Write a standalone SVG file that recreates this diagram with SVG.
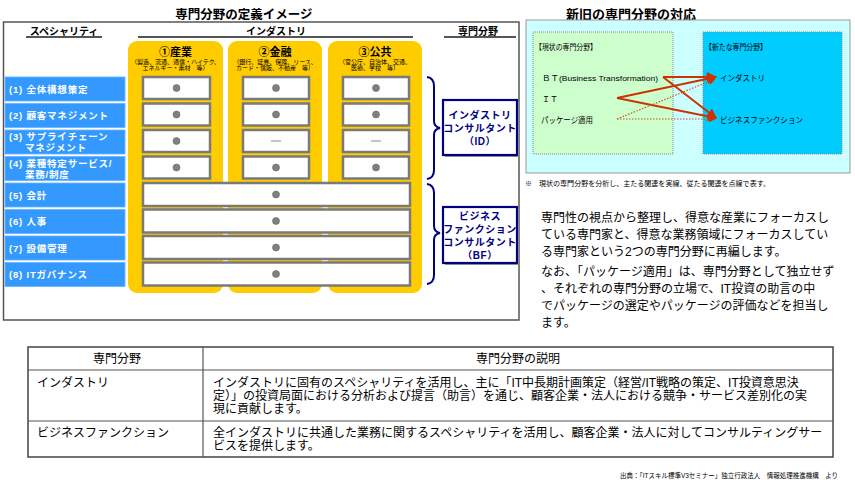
<svg xmlns="http://www.w3.org/2000/svg" width="855" height="486" viewBox="0 0 855 486">
<defs>
<style>
text{font-family:"Liberation Sans","Noto Sans CJK JP",sans-serif;fill:#000}
.ttl{font-size:12.5px;font-weight:bold}
.hdr{font-size:10px;font-weight:bold}
.ul{stroke:#555;stroke-width:2}
.yel{fill:#ffcc00}
.colh{font-size:11px;font-weight:bold;text-anchor:middle}
.cols{font-size:6px;text-anchor:middle}
.blue{fill:#3399ff;stroke:#66b3ff;stroke-width:0.8}
.bl{font-size:9.5px;font-weight:bold;fill:#fff;letter-spacing:0.8px}
.wb{fill:#fff;stroke:#7a7a7a;stroke-width:2.5}
.dot{fill:#808080;stroke:#666;stroke-width:0.6}
.dash{stroke:#888;stroke-width:1}
.brace{fill:none;stroke:#000080;stroke-width:2}
.nb{fill:#fff;stroke:#000080;stroke-width:2.2}
.sh{fill:#999}
.nt{font-size:10px;font-weight:bold;fill:#000080;text-anchor:middle;letter-spacing:0.5px}
.rt{font-size:8px}
.arr{stroke:#cc3300;stroke-width:2;fill:none;marker-end:url(#ah)}
.arrd{stroke:#cc5522;stroke-width:1.2;fill:none;stroke-dasharray:1.5 1.5;marker-end:url(#ahd)}
.para{font-size:12px}
.tb{fill:none;stroke:#444;stroke-width:1.5}
.tl{stroke:#555;stroke-width:1.2}
.tt{font-size:12px}
</style>
<marker id="ah" viewBox="0 0 10 10" refX="9" refY="5" markerWidth="5" markerHeight="5" orient="auto" markerUnits="strokeWidth"><path d="M0,0L10,5L0,10z" fill="#cc3300"/></marker>
<marker id="ahd" viewBox="0 0 10 10" refX="9" refY="5" markerWidth="6" markerHeight="6" orient="auto" markerUnits="strokeWidth"><path d="M0,0L10,5L0,10z" fill="#cc3300"/></marker>
</defs>
<rect width="855" height="486" fill="#fff"/>

<!-- Left figure -->
<g id="left-figure">
<text class="ttl" x="244" y="19" text-anchor="middle">専門分野の定義イメージ</text>
<rect x="3.5" y="22" width="515.5" height="298" fill="none" stroke="#555" stroke-width="1.5"/>
<text class="hdr" x="64" y="35" text-anchor="middle">スペシャリティ</text>
<line class="ul" x1="26" y1="37" x2="102" y2="37"/>
<text class="hdr" x="276" y="35" text-anchor="middle">インダストリ</text>
<line class="ul" x1="138" y1="37" x2="413" y2="37"/>
<text class="hdr" x="478" y="35" text-anchor="middle">専門分野</text>
<line class="ul" x1="444" y1="37" x2="516" y2="37"/>
</g>

<g id="col-sangyo">
<rect class="yel" x="128" y="41" width="95" height="252" rx="9"/>
<text class="colh" x="175.5" y="56">①産業</text>
<text class="cols" x="175.5" y="63.5">（製造、流通、通信・ハイテク、</text>
<text class="cols" x="175.5" y="70">エネルギー・素材　等）</text>
</g>
<g id="col-kinyu">
<rect class="yel" x="228" y="41" width="94" height="252" rx="9"/>
<text class="colh" x="275" y="56">②金融</text>
<text class="cols" x="275" y="63.5">（銀行、証券、保険、リース、</text>
<text class="cols" x="275" y="70">カード・信販、不動産　等）</text>
</g>
<g id="col-kokyo">
<rect class="yel" x="328" y="41" width="94" height="252" rx="9"/>
<text class="colh" x="375" y="56">③公共</text>
<text class="cols" x="375" y="63.5">（官公庁、自治体、交通、</text>
<text class="cols" x="375" y="70">医療、学校　等）</text>
</g>

<g id="row1">
<rect class="blue" x="5" y="77" width="120" height="24"/>
<text class="bl" x="9" y="92.5">(1) 全体構想策定</text>
<rect class="wb" x="143" y="77" width="67" height="22"/><circle class="dot" cx="176.5" cy="88" r="3.5"/>
<rect class="wb" x="243" y="77" width="66" height="22"/><circle class="dot" cx="276" cy="88" r="3.5"/>
<rect class="wb" x="343" y="77" width="66" height="22"/><circle class="dot" cx="376" cy="88" r="3.5"/>
</g>
<g id="row2">
<rect class="blue" x="5" y="103.5" width="120" height="24"/>
<text class="bl" x="9" y="119">(2) 顧客マネジメント</text>
<rect class="wb" x="143" y="103.5" width="67" height="22"/><circle class="dot" cx="176.5" cy="114.5" r="3.5"/>
<rect class="wb" x="243" y="103.5" width="66" height="22"/><circle class="dot" cx="276" cy="114.5" r="3.5"/>
<rect class="wb" x="343" y="103.5" width="66" height="22"/><circle class="dot" cx="376" cy="114.5" r="3.5"/>
</g>
<g id="row3">
<rect class="blue" x="5" y="130" width="120" height="24"/>
<text class="bl" x="9" y="140">(3) サプライチェーン</text>
<text class="bl" x="25" y="151">マネジメント</text>
<rect class="wb" x="143" y="130" width="67" height="22"/><circle class="dot" cx="176.5" cy="141" r="3.5"/>
<rect class="wb" x="243" y="130" width="66" height="22"/><line class="dash" x1="271" y1="141" x2="281" y2="141"/>
<rect class="wb" x="343" y="130" width="66" height="22"/><line class="dash" x1="371" y1="141" x2="381" y2="141"/>
</g>
<g id="row4">
<rect class="blue" x="5" y="156.5" width="120" height="24"/>
<text class="bl" x="9" y="166.5">(4) 業種特定サービス/</text>
<text class="bl" x="25" y="177.5">業務/制度</text>
<rect class="wb" x="143" y="156.5" width="67" height="22"/><circle class="dot" cx="176.5" cy="167.5" r="3.5"/>
<rect class="wb" x="243" y="156.5" width="66" height="22"/><circle class="dot" cx="276" cy="167.5" r="3.5"/>
<rect class="wb" x="343" y="156.5" width="66" height="22"/><circle class="dot" cx="376" cy="167.5" r="3.5"/>
</g>
<g id="row5">
<rect class="blue" x="5" y="183" width="120" height="24"/>
<text class="bl" x="9" y="198.5">(5) 会計</text>
<rect class="wb" x="143" y="183" width="267" height="23"/><circle class="dot" cx="276" cy="194.5" r="3.5"/>
</g>
<g id="row6">
<rect class="blue" x="5" y="209.5" width="120" height="24"/>
<text class="bl" x="9" y="225">(6) 人事</text>
<rect class="wb" x="143" y="209.5" width="267" height="23"/><circle class="dot" cx="276" cy="221" r="3.5"/>
</g>
<g id="row7">
<rect class="blue" x="5" y="236" width="120" height="24"/>
<text class="bl" x="9" y="251.5">(7) 設備管理</text>
<rect class="wb" x="143" y="236" width="267" height="23"/><circle class="dot" cx="276" cy="247.5" r="3.5"/>
</g>
<g id="row8">
<rect class="blue" x="5" y="262.5" width="120" height="24"/>
<text class="bl" x="9" y="278">(8) ITガバナンス</text>
<rect class="wb" x="143" y="262.5" width="267" height="23"/><circle class="dot" cx="276" cy="274" r="3.5"/>
</g>

<g id="node-id">
<rect class="sh" x="445" y="102" width="74" height="55"/>
<rect class="nb" x="443" y="100" width="74" height="55"/>
<text class="nt" x="480" y="119">インダストリ</text>
<text class="nt" x="480" y="132">コンサルタント</text>
<text class="nt" x="480" y="145">（ID）</text>
</g>
<g id="node-bf">
<rect class="sh" x="445" y="209" width="74" height="56"/>
<rect class="nb" x="443" y="207" width="74" height="56"/>
<text class="nt" x="480" y="220">ビジネス</text>
<text class="nt" x="480" y="233">ファンクション</text>
<text class="nt" x="480" y="246">コンサルタント</text>
<text class="nt" x="480" y="259">（BF）</text>
</g>

<!-- Right diagram -->
<g id="right-diagram">
<text class="ttl" x="631" y="19" text-anchor="middle" style="font-size:13px">新旧の専門分野の対応</text>
<rect x="526" y="20" width="324" height="153" fill="#ccffff" stroke="#999" stroke-width="1"/>
<text x="525" y="186" style="font-size:7px" textLength="245" lengthAdjust="spacingAndGlyphs">※　現状の専門分野を分析し、主たる関連を実線、従たる関連を点線で表す。</text>
</g>
<g id="box-current">
<rect x="533" y="32" width="140" height="122" fill="#ccffcc" stroke="#888" stroke-width="1" stroke-dasharray="1 1"/>
<text class="rt" x="535" y="50" textLength="62" lengthAdjust="spacingAndGlyphs">【現状の専門分野】</text>
<text class="rt" x="542" y="81" textLength="116" lengthAdjust="spacingAndGlyphs">ＢＴ(Business Transformation)</text>
<text class="rt" x="542" y="102">ＩＴ</text>
<text class="rt" x="541" y="123" textLength="52" lengthAdjust="spacingAndGlyphs">パッケージ適用</text>
</g>
<g id="box-new">
<rect x="703" y="32" width="139" height="122" fill="#00ccff" stroke="#888" stroke-width="1" stroke-dasharray="1 1"/>
<text class="rt" x="705" y="50" textLength="62" lengthAdjust="spacingAndGlyphs">【新たな専門分野】</text>
<text class="rt" x="720" y="81" textLength="45" lengthAdjust="spacingAndGlyphs">インダストリ</text>
<text class="rt" x="720" y="123" textLength="83" lengthAdjust="spacingAndGlyphs">ビジネスファンクション</text>
</g>

<g id="connectors">
<path class="brace" d="M427,77 Q434,78 434,86 L434,121 Q434,127 440,128 Q434,129 434,135 L434,170 Q434,178 427,179"/>
<path class="brace" d="M427,184 Q434,185 434,193 L434,226 Q434,232 440,233 Q434,234 434,240 L434,275 Q434,283 427,284"/>
<line class="arr" x1="663" y1="77" x2="716" y2="77"/>
<line class="arr" x1="663" y1="77" x2="716" y2="118"/>
<line class="arr" x1="617" y1="98" x2="716" y2="77"/>
<line class="arr" x1="617" y1="98" x2="716" y2="118"/>
<line class="arrd" x1="617" y1="119" x2="715" y2="79"/>
<line class="arrd" x1="617" y1="119" x2="715" y2="119"/>
</g>

<g id="paragraph">
<text class="para" x="541" y="222">専門性の視点から整理し、得意な産業にフォーカスし</text>
<text class="para" x="541" y="239">ている専門家と、得意な業務領域にフォーカスしてい</text>
<text class="para" x="541" y="256">る専門家という2つの専門分野に再編します。</text>
<text class="para" x="541" y="276">なお、「パッケージ適用」は、専門分野として独立せず</text>
<text class="para" x="541" y="293">、それぞれの専門分野の立場で、IT投資の助言の中</text>
<text class="para" x="541" y="310">でパッケージの選定やパッケージの評価などを担当し</text>
<text class="para" x="541" y="327">ます。</text>
</g>

<g id="table">
<rect class="tb" x="28" y="347" width="805" height="110"/>
<line class="tl" x1="28" y1="370" x2="833" y2="370"/>
<line class="tl" x1="28" y1="421" x2="833" y2="421"/>
<line class="tl" x1="203" y1="347" x2="203" y2="457"/>
<text class="tt" x="117" y="363" text-anchor="middle">専門分野</text>
<text class="tt" x="518" y="363" text-anchor="middle">専門分野の説明</text>
<text class="tt" x="37" y="387">インダストリ</text>
<text class="tt" x="213" y="387">インダストリに固有のスペシャリティを活用し、主に「IT中長期計画策定（経営/IT戦略の策定、IT投資意思決</text>
<text class="tt" x="213" y="400">定）」の投資局面における分析および提言（助言）を通じ、顧客企業・法人における競争・サービス差別化の実</text>
<text class="tt" x="213" y="413">現に貢献します。</text>
<text class="tt" x="37" y="437">ビジネスファンクション</text>
<text class="tt" x="213" y="437">全インダストリに共通した業務に関するスペシャリティを活用し、顧客企業・法人に対してコンサルティングサー</text>
<text class="tt" x="213" y="450">ビスを提供します。</text>
</g>

<text x="620" y="478" style="font-size:7px" textLength="218" lengthAdjust="spacingAndGlyphs">出典：「ITスキル標準V3セミナー」独立行政法人　情報処理推進機構　より</text>
</svg>
